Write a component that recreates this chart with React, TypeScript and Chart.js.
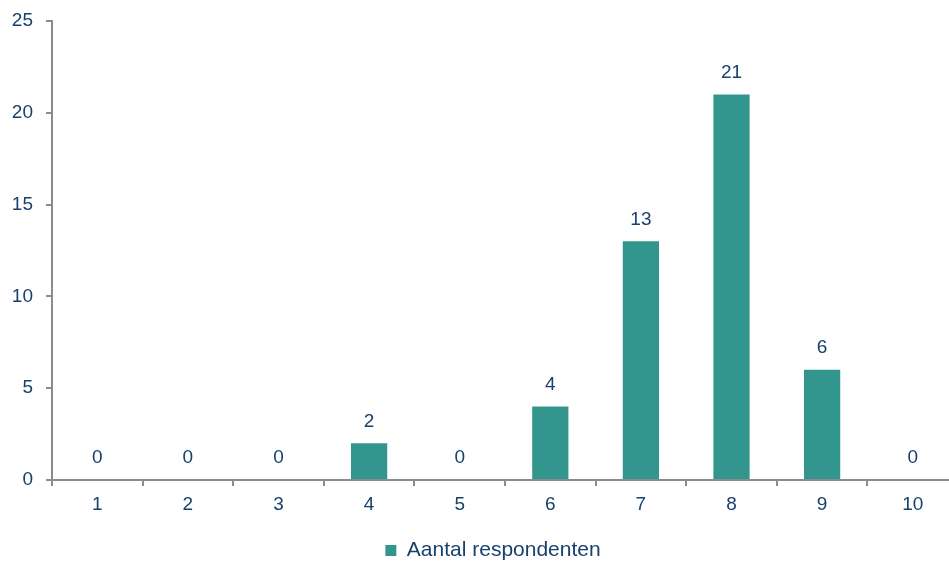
import React, { useEffect, useRef } from "react";
import { Chart, registerables } from "chart.js";

Chart.register(...registerables);

const categories = ["1", "2", "3", "4", "5", "6", "7", "8", "9", "10"];
const respondents = [0, 0, 0, 2, 0, 4, 13, 21, 6, 0];
const seriesLabel = "Aantal respondenten";
const yTicks = [0, 5, 10, 15, 20, 25];

const BAR_COLOR = "#32968E";
const TEXT_COLOR = "#16416B";
const AXIS_COLOR = "#8C8C8C";
const FONT = "'Liberation Sans', Arial, sans-serif";

// Writes each bar's value a little above its top.
const valueLabels = {
  id: "valueLabels",
  afterDatasetsDraw(chart: any) {
    const { ctx } = chart;
    const meta = chart.getDatasetMeta(0);
    const data = chart.data.datasets[0].data as number[];
    ctx.save();
    ctx.font = `19px ${FONT}`;
    ctx.fillStyle = TEXT_COLOR;
    ctx.textAlign = "center";
    ctx.textBaseline = "middle";
    meta.data.forEach((bar: any, i: number) => {
      ctx.fillText(String(data[i]), bar.x, bar.y - 22);
    });
    ctx.restore();
  },
};

// Centres the legend under the plot area instead of the whole canvas.
const legendShift = {
  id: "legendShift",
  afterLayout(chart: any) {
    if (chart.legend) {
      chart.legend.left = chart.legend.left + 28;
    }
  },
};

export default function App() {
  const canvasRef = useRef<HTMLCanvasElement | null>(null);

  useEffect(() => {
    if (!canvasRef.current) return;
    const chart = new Chart(canvasRef.current, {
      type: "bar",
      data: {
        labels: categories,
        datasets: [
          {
            label: seriesLabel,
            data: respondents,
            backgroundColor: BAR_COLOR,
            borderWidth: 0,
            barPercentage: 0.4,
            categoryPercentage: 1,
          },
        ],
      },
      options: {
        animation: false,
        responsive: false,
        maintainAspectRatio: false,
        layout: { padding: { left: 0, top: 21, right: 2, bottom: 0 } },
        plugins: {
          tooltip: { enabled: false },
          legend: {
            position: "bottom",
            labels: {
              font: { family: FONT, size: 21 },
              color: TEXT_COLOR,
              boxWidth: 11,
              boxHeight: 11,
              padding: 10,
            },
          },
        },
        scales: {
          x: {
            offset: true,
            grid: {
              offset: true,
              drawOnChartArea: false,
              drawTicks: true,
              tickLength: 6,
              color: AXIS_COLOR,
              lineWidth: 2,
            },
            border: { display: true, color: AXIS_COLOR, width: 2 },
            ticks: {
              font: { family: FONT, size: 19 },
              color: TEXT_COLOR,
              padding: 7,
              maxRotation: 0,
            },
            afterFit(scale: any) {
              scale.height = 50;
            },
          },
          y: {
            min: 0,
            max: 25,
            afterBuildTicks(scale: any) {
              scale.ticks = yTicks.map((v) => ({ value: v }));
            },
            grid: {
              drawOnChartArea: false,
              drawTicks: true,
              tickLength: 6,
              color: AXIS_COLOR,
              lineWidth: 2,
            },
            border: { display: true, color: AXIS_COLOR, width: 2 },
            ticks: {
              font: { family: FONT, size: 19 },
              color: TEXT_COLOR,
              padding: 13,
            },
            afterFit(scale: any) {
              scale.width = 52;
              scale.paddingTop = 0;
              scale.paddingBottom = 0;
            },
          },
        },
      },
      plugins: [valueLabels, legendShift],
    });
    return () => chart.destroy();
  }, []);

  return (
    <div
      style={{
        position: "fixed",
        left: 0,
        top: 0,
        width: 949,
        height: 562,
        overflow: "hidden",
        background: "#fff",
      }}
    >
      <canvas ref={canvasRef} width={960} height={571} style={{ display: "block" }} />
    </div>
  );
}
